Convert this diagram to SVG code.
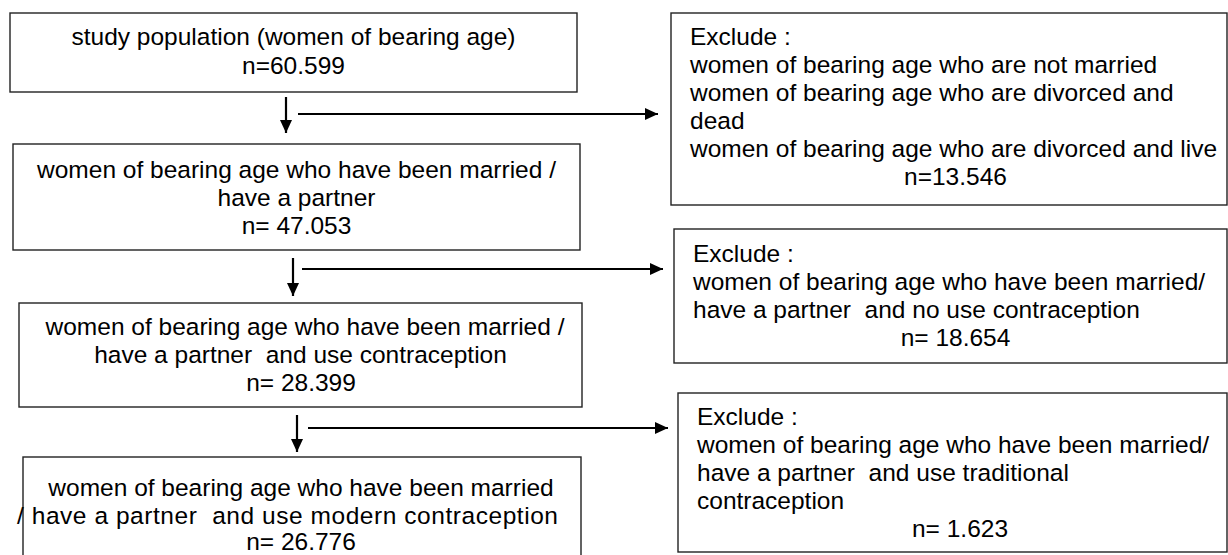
<svg xmlns="http://www.w3.org/2000/svg" width="1228" height="555" viewBox="0 0 1228 555">
<defs>
<style>
.box{fill:#fff;stroke:#222;stroke-width:1.4}
text{font-family:"Liberation Sans",Arial,sans-serif;font-size:24.5px;fill:#000;white-space:pre}
.c{text-anchor:middle}
.conn{stroke:#000;stroke-width:2.2;fill:none}
</style>
<marker id="ah" viewBox="0 0 13 12" markerWidth="13" markerHeight="12" refX="13" refY="6" orient="auto" markerUnits="userSpaceOnUse">
<path d="M0,0 L13,6 L0,12 z" fill="#000"/>
</marker>
</defs>
<rect width="1228" height="555" fill="#fff"/>
<g id="box1">
<rect class="box" x="10" y="13" width="567" height="79"/>
<text class="c" x="293.5" y="45">study population (women of bearing age)</text>
<text class="c" x="293.5" y="74">n=60.599</text>
</g>
<g id="box2">
<rect class="box" x="13" y="144" width="567" height="106"/>
<text class="c" x="296.5" y="178">women of bearing age who have been married /</text>
<text class="c" x="296.5" y="206">have a partner</text>
<text class="c" x="296.5" y="234">n= 47.053</text>
</g>
<g id="box3">
<rect class="box" x="19" y="303" width="563" height="104"/>
<text class="c" x="305" y="335">women of bearing age who have been married /</text>
<text class="c" x="300.5" y="363">have a partner  and use contraception</text>
<text class="c" x="301" y="391">n= 28.399</text>
</g>
<g id="box4">
<rect class="box" x="23" y="457" width="558" height="110"/>
<text class="c" x="301" y="496">women of bearing age who have been married</text>
<text x="17" y="524" textLength="541" lengthAdjust="spacing">/ have a partner  and use modern contraception</text>
<text class="c" x="301" y="550">n= 26.776</text>
</g>
<g id="ex1">
<rect class="box" x="671" y="13" width="556" height="192"/>
<text x="690" y="45">Exclude :</text>
<text x="690" y="73">women of bearing age who are not married</text>
<text x="690" y="101">women of bearing age who are divorced and</text>
<text x="690" y="129">dead</text>
<text x="690" y="157">women of bearing age who are divorced and live</text>
<text class="c" x="955.5" y="185">n=13.546</text>
</g>
<g id="ex2">
<rect class="box" x="674" y="229" width="553" height="134"/>
<text x="693" y="262">Exclude :</text>
<text x="693" y="290">women of bearing age who have been married/</text>
<text x="693" y="318">have a partner  and no use contraception</text>
<text class="c" x="955.5" y="346">n= 18.654</text>
</g>
<g id="ex3">
<rect class="box" x="678" y="393" width="549" height="159"/>
<text x="697" y="425">Exclude :</text>
<text x="697" y="453">women of bearing age who have been married/</text>
<text x="697" y="481">have a partner  and use traditional</text>
<text x="697" y="509">contraception</text>
<text class="c" x="960" y="537">n= 1.623</text>
</g>
<g id="connectors">
<line class="conn" x1="286" y1="97" x2="286" y2="133" marker-end="url(#ah)"/>
<line class="conn" x1="298" y1="114" x2="658" y2="114" marker-end="url(#ah)"/>
<line class="conn" x1="293" y1="258" x2="293" y2="296" marker-end="url(#ah)"/>
<line class="conn" x1="302" y1="269" x2="663" y2="269" marker-end="url(#ah)"/>
<line class="conn" x1="297" y1="415" x2="297" y2="452" marker-end="url(#ah)"/>
<line class="conn" x1="308" y1="428" x2="668" y2="428" marker-end="url(#ah)"/>
</g>
</svg>
